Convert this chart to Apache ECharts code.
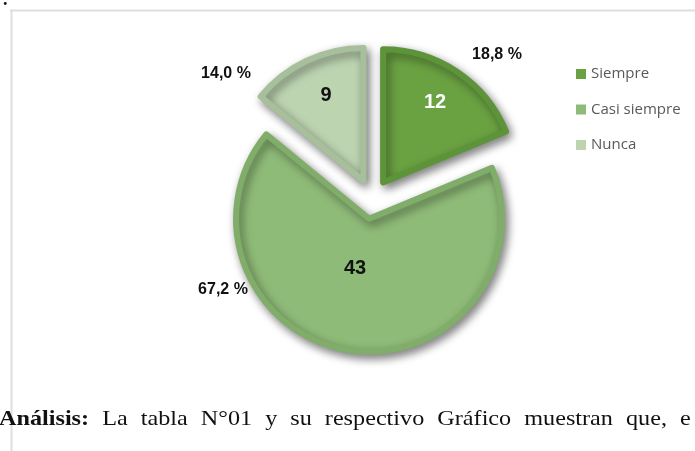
<!DOCTYPE html>
<html><head><meta charset="utf-8">
<script src="https://cdn.jsdelivr.net/npm/echarts@6/dist/echarts.min.js"></script>
<style>html,body{margin:0;padding:0;background:#fff}#c{width:695px;height:451px}</style>
</head><body><div id="c"></div>
<script>
// ---- data ----
const categories = ['Siempre', 'Casi siempre', 'Nunca'];
const values = [12, 43, 9];
const percents = [18.8, 67.2, 14.0];
const captionWords = ['Análisis:', 'La', 'tabla', 'N°01', 'y', 'su', 'respectivo', 'Gráfico', 'muestran', 'que,', 'e'];

// ---- styles ----
const fillColors = ['#6aa242', '#8fbb78', '#bdd4b1'];
const borderColors = ['#5e9439', '#80ad69', '#a7c09b'];
const valueLabelColors = ['#ffffff', '#111111', '#111111'];

const chart = echarts.init(document.getElementById('c'), null, {renderer: 'canvas'});

const CENTER = [372, 199];
const R = 133;

function fmtPct(p) { return p.toFixed(1).replace('.', ',') + ' %'; }

// caption words laid out as a justified line
const SX = 1.1;
const capFont = '22px "Liberation Serif"';
const capBold = 'bold 22px "Liberation Serif"';
const mctx = document.createElement('canvas').getContext('2d');
const widths = captionWords.map((w, i) => { mctx.font = i === 0 ? capBold : capFont; return mctx.measureText(w).width * SX; });
const startX = -1, lastStart = 680;
const totalW = widths.slice(0, -1).reduce((a, b) => a + b, 0);
const gap = (lastStart - startX - totalW) / (captionWords.length - 1);
let cx = startX;
const captionGraphics = captionWords.map((w, i) => {
  const el = {type: 'text', x: cx, y: 419, scaleX: SX, style: {text: w, font: i === 0 ? capBold : capFont, fill: '#111', verticalAlign: 'middle'}};
  cx += widths[i] + gap;
  return el;
});

const valueLabelAt = {0: [435, 102], 1: [355, 268], 2: [326, 95]};
const pctLabelAt = {0: [497, 55], 1: [223, 290], 2: [226, 74]};

const labelSeriesBase = {
  type: 'pie', center: CENTER, radius: R, startAngle: 90, clockwise: true,
  silent: true, legendHoverLink: false, avoidLabelOverlap: false, selectedMode: false,
  emphasis: {disabled: true},
  itemStyle: {color: 'rgba(0,0,0,0)', borderWidth: 0, shadowBlur: 0},
  labelLine: {show: false}
};

const option = {
  animation: false,
  backgroundColor: '#ffffff',
  legend: {
    orient: 'vertical', left: 571, top: 61,
    itemWidth: 10, itemHeight: 10, itemGap: 19.5, icon: 'rect',
    textStyle: {fontFamily: '"Open Sans"', fontSize: 15, color: '#595959', lineHeight: 16},
    itemStyle: {borderWidth: 0, shadowBlur: 0, shadowColor: 'rgba(0,0,0,0)'},
    selectedMode: false,
    data: categories.map((n, i) => ({name: n, itemStyle: {color: fillColors[i], borderWidth: 0}}))
  },
  graphic: [
    {type: 'line', shape: {x1: 10, y1: 10.5, x2: 695, y2: 10.5}, style: {stroke: '#dedede', lineWidth: 2}},
    {type: 'line', shape: {x1: 11.5, y1: 10, x2: 11.5, y2: 451}, style: {stroke: '#dedede', lineWidth: 2}},
    {type: 'text', x: 3, y: -9, style: {text: '.', font: 'bold 18px "Liberation Serif"', fill: '#111'}},
    ...captionGraphics
  ],
  series: [
    {
      type: 'pie', name: 'main', center: CENTER, radius: R, startAngle: 90, clockwise: true,
      selectedMode: 'multiple', selectedOffset: 20, avoidLabelOverlap: false,
      emphasis: {disabled: true},
      itemStyle: {borderWidth: 6, shadowBlur: 10, shadowOffsetX: 3, shadowOffsetY: 4, shadowColor: 'rgba(0,0,0,0.45)'},
      label: {show: false},
      labelLine: {show: false},
      data: categories.map((n, i) => ({
        name: n, value: values[i], selected: true,
        itemStyle: {color: fillColors[i], borderColor: borderColors[i]},
        select: {itemStyle: {color: fillColors[i], borderColor: borderColors[i], borderWidth: 6}}
      }))
    },
    Object.assign({}, labelSeriesBase, {
      name: 'pct',
      label: {show: true, position: 'outside', color: '#111', fontFamily: '"Liberation Sans"', fontWeight: 'bold', fontSize: 16,
        formatter: p => fmtPct(percents[p.dataIndex])},
      labelLayout: p => ({x: pctLabelAt[p.dataIndex][0], y: pctLabelAt[p.dataIndex][1], align: 'center', verticalAlign: 'middle'}),
      data: categories.map((n, i) => ({name: n, value: values[i]}))
    }),
    Object.assign({}, labelSeriesBase, {
      name: 'val',
      label: {show: true, position: 'outside', fontFamily: '"Liberation Sans"', fontWeight: 'bold', fontSize: 20, formatter: '{c}'},
      labelLayout: p => ({x: valueLabelAt[p.dataIndex][0], y: valueLabelAt[p.dataIndex][1], align: 'center', verticalAlign: 'middle'}),
      data: categories.map((n, i) => ({name: n, value: values[i], label: {color: valueLabelColors[i]}}))
    })
  ]
};
chart.setOption(option);
</script>
</body></html>
